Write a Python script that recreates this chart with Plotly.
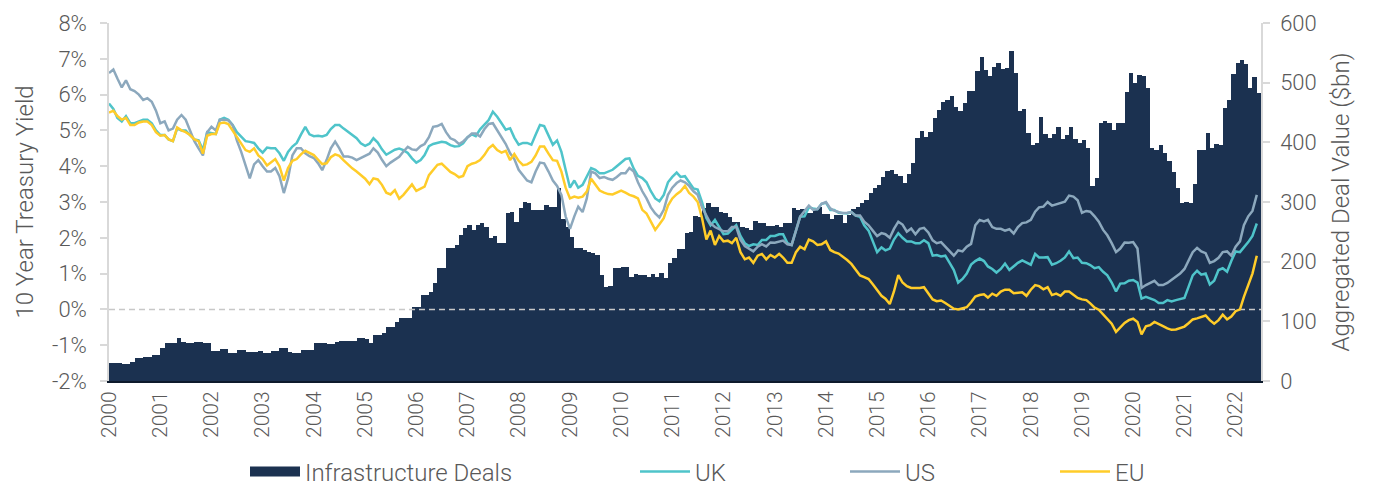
import pandas as pd
import plotly.graph_objects as go

# ---------------- data (monthly, Jan 2000 - Jun 2022) ----------------
deals_by_year = {
    2000: [30, 30, 30, 28, 28, 32, 38, 38, 40, 40, 43, 43],
    2001: [55, 64, 64, 64, 72, 66, 64, 64, 66, 66, 64, 64],
    2002: [50, 50, 54, 54, 47, 47, 52, 52, 49, 49, 49, 51],
    2003: [47, 47, 51, 51, 55, 55, 49, 47, 47, 52, 52, 52],
    2004: [64, 64, 64, 62, 62, 66, 67, 67, 67, 67, 72, 72],
    2005: [70, 64, 77, 77, 80, 90, 90, 99, 105, 105, 105, 124],
    2006: [124, 144, 144, 149, 164, 189, 189, 223, 223, 228, 245, 256],
    2007: [261, 253, 261, 265, 258, 240, 243, 231, 231, 282, 283, 266],
    2008: [290, 300, 298, 287, 287, 287, 295, 292, 292, 323, 271, 258],
    2009: [241, 223, 223, 219, 216, 214, 211, 178, 158, 160, 189, 189],
    2010: [191, 191, 174, 179, 178, 178, 174, 179, 174, 181, 173, 198],
    2011: [206, 221, 221, 248, 250, 277, 275, 290, 298, 292, 292, 283],
    2012: [282, 275, 266, 266, 258, 256, 253, 268, 265, 265, 260, 260],
    2013: [261, 258, 265, 265, 290, 287, 288, 282, 282, 287, 292, 280],
    2014: [280, 272, 278, 278, 265, 278, 288, 292, 298, 303, 315, 323],
    2015: [329, 342, 352, 354, 347, 344, 332, 347, 365, 407, 419, 409],
    2016: [417, 441, 454, 468, 471, 478, 459, 452, 466, 486, 486, 520],
    2017: [543, 521, 511, 526, 533, 523, 525, 553, 516, 452, 456, 416],
    2018: [396, 399, 442, 414, 407, 414, 426, 406, 412, 426, 406, 399],
    2019: [404, 390, 327, 340, 432, 436, 432, 421, 433, 433, 485, 516],
    2020: [499, 513, 511, 491, 391, 387, 396, 382, 369, 350, 323, 298],
    2021: [300, 298, 330, 387, 387, 416, 391, 397, 396, 457, 471, 514],
    2022: [533, 538, 531, 491, 510, 482],
}

uk_by_year = {
    2000: [5.75, 5.6, 5.35, 5.25, 5.4, 5.2, 5.2, 5.25, 5.3, 5.3, 5.2, 5.0],
    2001: [4.87, 4.87, 4.75, 4.7, 5.05, 5.0, 5.0, 4.87, 4.75, 4.72, 4.45, 4.95],
    2002: [4.92, 4.9, 5.3, 5.35, 5.3, 5.15, 4.95, 4.83, 4.7, 4.68, 4.65, 4.5],
    2003: [4.38, 4.52, 4.5, 4.5, 4.36, 4.15, 4.4, 4.55, 4.65, 4.88, 5.1, 4.89],
    2004: [4.84, 4.85, 4.83, 4.87, 5.04, 5.15, 5.15, 5.05, 4.96, 4.87, 4.78, 4.64],
    2005: [4.57, 4.63, 4.78, 4.66, 4.47, 4.32, 4.4, 4.46, 4.49, 4.45, 4.37, 4.22],
    2006: [4.1, 4.17, 4.31, 4.56, 4.62, 4.65, 4.68, 4.66, 4.59, 4.55, 4.56, 4.64],
    2007: [4.81, 4.89, 4.84, 5.03, 5.15, 5.29, 5.52, 5.38, 5.2, 5.02, 5.06, 4.8],
    2008: [4.6, 4.65, 4.65, 4.6, 4.88, 5.15, 5.12, 4.85, 4.6, 4.72, 4.4, 3.9],
    2009: [3.4, 3.6, 3.4, 3.48, 3.7, 3.95, 3.9, 3.8, 3.8, 3.85, 3.9, 4.0],
    2010: [4.1, 4.2, 4.22, 3.93, 3.73, 3.67, 3.55, 3.3, 3.1, 3.02, 3.2, 3.55],
    2011: [3.7, 3.82, 3.7, 3.72, 3.55, 3.38, 3.35, 3.0, 2.55, 2.35, 2.5, 2.3],
    2012: [2.1, 2.12, 2.22, 2.35, 2.05, 1.85, 1.77, 1.82, 1.8, 1.94, 1.94, 2.05],
    2013: [2.05, 2.1, 2.1, 1.85, 1.8, 2.2, 2.59, 2.6, 2.85, 2.82, 2.8, 2.95],
    2014: [2.98, 2.78, 2.78, 2.7, 2.68, 2.68, 2.72, 2.62, 2.59, 2.35, 2.2, 1.88],
    2015: [1.6, 1.73, 1.65, 1.7, 1.95, 2.13, 2.0, 1.9, 1.9, 1.85, 1.85, 1.93],
    2016: [1.85, 1.5, 1.52, 1.48, 1.5, 1.3, 1.1, 0.75, 0.85, 1.0, 1.25, 1.35],
    2017: [1.42, 1.35, 1.2, 1.13, 1.03, 1.13, 1.28, 1.1, 1.2, 1.3, 1.37, 1.3],
    2018: [1.25, 1.55, 1.45, 1.45, 1.46, 1.25, 1.29, 1.36, 1.45, 1.62, 1.43, 1.45],
    2019: [1.3, 1.29, 1.24, 1.15, 1.18, 1.05, 0.95, 0.75, 0.5, 0.72, 0.73, 0.8],
    2020: [0.82, 0.75, 0.3, 0.35, 0.3, 0.26, 0.18, 0.18, 0.26, 0.22, 0.26, 0.3],
    2021: [0.32, 0.65, 0.95, 1.08, 0.97, 1.0, 0.7, 0.8, 1.1, 1.15, 1.05, 1.35],
    2022: [1.62, 1.6, 1.72, 1.88, 2.05, 2.4],
}

us_by_year = {
    2000: [6.6, 6.7, 6.45, 6.2, 6.4, 6.15, 6.1, 6.0, 5.85, 5.9, 5.8, 5.55],
    2001: [5.2, 5.25, 5.0, 5.05, 5.3, 5.43, 5.3, 5.0, 4.7, 4.5, 4.3, 4.95],
    2002: [5.1, 5.0, 5.3, 5.3, 5.28, 5.15, 4.72, 4.4, 4.05, 3.66, 4.05, 4.17],
    2003: [4.0, 3.85, 3.85, 3.95, 3.72, 3.25, 3.66, 4.3, 4.5, 4.5, 4.36, 4.28],
    2004: [4.23, 4.08, 3.89, 4.17, 4.5, 4.69, 4.5, 4.27, 4.27, 4.24, 4.17, 4.23],
    2005: [4.29, 4.35, 4.5, 4.38, 4.18, 4.0, 4.1, 4.19, 4.26, 4.41, 4.54, 4.47],
    2006: [4.45, 4.56, 4.62, 4.81, 5.1, 5.12, 5.18, 4.95, 4.78, 4.73, 4.62, 4.69],
    2007: [4.79, 4.91, 4.91, 4.83, 5.03, 5.18, 5.2, 5.0, 4.8, 4.62, 4.36, 4.2],
    2008: [3.9, 3.75, 3.6, 3.55, 3.85, 4.1, 4.08, 3.85, 3.6, 3.45, 3.2, 2.6],
    2009: [2.25, 2.6, 2.87, 2.72, 3.1, 3.85, 3.8, 3.67, 3.7, 3.65, 3.62, 3.7],
    2010: [3.8, 3.8, 3.95, 3.85, 3.55, 3.3, 3.1, 2.85, 2.68, 2.57, 2.78, 3.2],
    2011: [3.4, 3.53, 3.6, 3.55, 3.45, 3.3, 3.2, 2.85, 2.6, 2.4, 2.3, 2.25],
    2012: [2.18, 2.18, 2.3, 2.3, 1.95, 1.77, 1.7, 1.62, 1.75, 1.82, 1.76, 1.87],
    2013: [1.86, 1.9, 1.92, 1.82, 1.8, 2.2, 2.59, 2.75, 2.9, 2.78, 2.8, 2.95],
    2014: [3.0, 2.82, 2.76, 2.72, 2.69, 2.7, 2.72, 2.62, 2.62, 2.45, 2.35, 2.2],
    2015: [2.05, 2.13, 2.1, 2.0, 2.25, 2.45, 2.37, 2.17, 2.26, 2.1, 2.25, 2.28],
    2016: [2.15, 1.93, 1.85, 1.88, 1.75, 1.6, 1.5, 1.65, 1.62, 1.75, 1.83, 2.35],
    2017: [2.5, 2.46, 2.5, 2.3, 2.25, 2.25, 2.2, 2.24, 2.12, 2.3, 2.41, 2.43],
    2018: [2.5, 2.73, 2.85, 2.87, 3.0, 2.9, 2.93, 2.97, 3.01, 3.18, 3.15, 3.05],
    2019: [2.7, 2.75, 2.73, 2.6, 2.45, 2.22, 2.07, 1.85, 1.6, 1.7, 1.87, 1.86],
    2020: [1.88, 1.7, 0.6, 0.68, 0.73, 0.8, 0.68, 0.68, 0.74, 0.82, 0.9, 1.0],
    2021: [1.13, 1.4, 1.6, 1.72, 1.62, 1.57, 1.3, 1.35, 1.44, 1.6, 1.62, 1.5],
    2022: [1.75, 1.9, 2.35, 2.6, 2.75, 3.2],
}

eu_by_year = {
    2000: [5.5, 5.55, 5.4, 5.3, 5.35, 5.15, 5.15, 5.22, 5.25, 5.25, 5.15, 4.95],
    2001: [4.85, 4.87, 4.75, 4.7, 5.08, 5.0, 4.95, 4.87, 4.75, 4.7, 4.35, 4.85],
    2002: [4.9, 4.9, 5.2, 5.22, 5.18, 5.0, 4.8, 4.62, 4.45, 4.4, 4.5, 4.3],
    2003: [4.2, 4.02, 4.1, 4.2, 4.0, 3.6, 3.95, 4.15, 4.2, 4.33, 4.43, 4.38],
    2004: [4.31, 4.18, 4.06, 4.08, 4.25, 4.33, 4.29, 4.16, 4.04, 3.94, 3.85, 3.76],
    2005: [3.65, 3.5, 3.66, 3.63, 3.48, 3.26, 3.21, 3.33, 3.09, 3.2, 3.36, 3.49],
    2006: [3.31, 3.37, 3.43, 3.75, 3.89, 4.04, 4.07, 3.96, 3.84, 3.78, 3.69, 3.73],
    2007: [4.0, 4.07, 4.1, 4.17, 4.31, 4.5, 4.59, 4.45, 4.38, 4.43, 4.17, 4.34],
    2008: [4.15, 4.03, 4.05, 4.12, 4.3, 4.55, 4.55, 4.35, 4.17, 4.15, 3.85, 3.4],
    2009: [3.1, 3.15, 3.12, 3.15, 3.29, 3.65, 3.5, 3.32, 3.26, 3.22, 3.21, 3.27],
    2010: [3.32, 3.26, 3.2, 3.16, 3.1, 2.78, 2.68, 2.45, 2.22, 2.38, 2.55, 2.9],
    2011: [3.1, 3.22, 3.3, 3.45, 3.25, 3.15, 3.0, 2.55, 1.95, 2.2, 1.8, 2.05],
    2012: [1.9, 1.92, 1.85, 2.0, 1.6, 1.4, 1.45, 1.3, 1.5, 1.55, 1.4, 1.52],
    2013: [1.45, 1.55, 1.45, 1.3, 1.3, 1.6, 1.75, 1.68, 1.95, 1.9, 1.8, 1.82],
    2014: [1.9, 1.66, 1.6, 1.56, 1.48, 1.38, 1.27, 1.12, 0.95, 0.9, 0.85, 0.7],
    2015: [0.53, 0.38, 0.3, 0.15, 0.5, 0.96, 0.75, 0.65, 0.6, 0.59, 0.6, 0.62],
    2016: [0.45, 0.28, 0.23, 0.25, 0.18, 0.1, 0.02, 0.0, 0.02, 0.06, 0.2, 0.36],
    2017: [0.4, 0.42, 0.33, 0.44, 0.38, 0.5, 0.55, 0.55, 0.45, 0.47, 0.48, 0.38],
    2018: [0.55, 0.68, 0.65, 0.56, 0.62, 0.4, 0.44, 0.38, 0.5, 0.5, 0.4, 0.32],
    2019: [0.28, 0.26, 0.17, 0.05, -0.01, -0.15, -0.27, -0.4, -0.63, -0.5, -0.38, -0.3],
    2020: [-0.26, -0.35, -0.7, -0.47, -0.44, -0.35, -0.42, -0.47, -0.53, -0.57, -0.56, -0.53],
    2021: [-0.48, -0.38, -0.28, -0.25, -0.2, -0.17, -0.3, -0.4, -0.3, -0.15, -0.28, -0.2],
    2022: [-0.05, 0.0, 0.35, 0.7, 1.0, 1.5],
}

years = list(range(2000, 2023))
left_ticks = list(range(-2, 9))
right_ticks = list(range(0, 601, 100))


def flat(d):
    out = []
    for y in sorted(d):
        out.extend(d[y])
    return out


deals = flat(deals_by_year)
uk = flat(uk_by_year)
us = flat(us_by_year)
eu = flat(eu_by_year)
n = len(deals)

months = pd.date_range("2000-01-01", periods=n, freq="MS")
next_months = months + pd.offsets.MonthBegin(1)
mid = months + (next_months - months) / 2
widths = [(b - a).total_seconds() * 1000 for a, b in zip(months, next_months)]
x_start = months[0]
x_end = next_months[-1]

NAVY = "#1b3150"
TEAL = "#4fc4ca"
GREY = "#8ca8bd"
YELLOW = "#ffcc29"
TXT = "#595959"
FONT = "Roboto"

fig = go.Figure()

fig.add_trace(go.Bar(
    x=mid, y=deals, width=widths, marker=dict(color=NAVY, line=dict(width=0)),
    name="Infrastructure Deals", yaxis="y", showlegend=False,
))
# legend proxy for the bars (wide swatch)
fig.add_trace(go.Scatter(
    x=[None], y=[None], mode="lines", line=dict(color=NAVY, width=14),
    name="Infrastructure Deals", yaxis="y2", legend="legend",
))
# dashed 0% reference line
fig.add_trace(go.Scatter(
    x=[x_start, x_end], y=[0, 0], mode="lines",
    line=dict(color="#c8c8c8", width=1.5, dash="6px,4px"),
    yaxis="y2", showlegend=False, hoverinfo="skip",
))
fig.add_trace(go.Scatter(x=months, y=uk, mode="lines", name="UK",
                         line=dict(color=TEAL, width=2.5), yaxis="y2", legend="legend2"))
fig.add_trace(go.Scatter(x=months, y=us, mode="lines", name="US",
                         line=dict(color=GREY, width=2.5), yaxis="y2", legend="legend3"))
fig.add_trace(go.Scatter(x=months, y=eu, mode="lines", name="EU",
                         line=dict(color=YELLOW, width=2.5), yaxis="y2", legend="legend4"))

# The page body adds an 8px offset; the figure is sized so the plot area
# lands on the same pixels as the reference.
W, H = 1373, 486
L, R, T, B = 101, 120, 15, 113
pw = W - L - R
ph = H - T - B


def px_x(p):
    return (p - 8 - L) / pw


legend_y = -(472 - 8 - (H - B)) / ph


def leg(xpix):
    return dict(x=px_x(xpix), xanchor="left", y=legend_y, yanchor="middle",
                orientation="h", itemwidth=50, bgcolor="rgba(0,0,0,0)",
                font=dict(family=FONT, size=24, color=TXT, weight=300))


fig.update_layout(
    width=W, height=H,
    margin=dict(l=L, r=R, t=T, b=B, autoexpand=False),
    plot_bgcolor="white", paper_bgcolor="white",
    bargap=0,
    font=dict(family=FONT, size=22, color=TXT, weight=300),
    xaxis=dict(
        type="date", range=[x_start, x_end], automargin=False,
        tickvals=[pd.Timestamp(f"{y}-01-01") for y in years],
        ticktext=[str(y) for y in years],
        tickangle=-90, ticks="", showgrid=False, zeroline=False,
        showline=True, linecolor="#0d1a2c", linewidth=2,
        tickfont=dict(family=FONT, size=21, color=TXT, weight=300),
    ),
    yaxis=dict(
        side="right", range=[0, 600], tickvals=right_ticks, automargin=False,
        ticktext=[str(v) for v in right_ticks],
        showgrid=False, zeroline=False, showline=True,
        linecolor="#d9d9d9", linewidth=1.5, ticks="outside", ticklen=7,
        tickcolor="#d9d9d9", tickwidth=1.5, ticklabelstandoff=6,
        title=dict(text="Aggregated Deal Value ($bn)", standoff=16,
                   font=dict(family=FONT, size=24, color=TXT, weight=300)),
        tickfont=dict(family=FONT, size=22, color=TXT, weight=300),
    ),
    yaxis2=dict(
        overlaying="y", side="left", range=[-2, 8], tickvals=left_ticks,
        automargin=False,
        ticktext=[f"{v}%" for v in left_ticks],
        showgrid=False, zeroline=False, showline=True,
        linecolor="#d9d9d9", linewidth=1.5, ticks="outside", ticklen=7,
        tickcolor="#d9d9d9", tickwidth=1.5, ticklabelstandoff=9,
        title=dict(text="10 Year Treasury Yield", standoff=12,
                   font=dict(family=FONT, size=24, color=TXT, weight=300)),
        tickfont=dict(family=FONT, size=22, color=TXT, weight=300),
    ),
    legend=leg(245),
    legend2=leg(635),
    legend3=leg(845),
    legend4=leg(1055),
)

fig.write_html("out.html")
